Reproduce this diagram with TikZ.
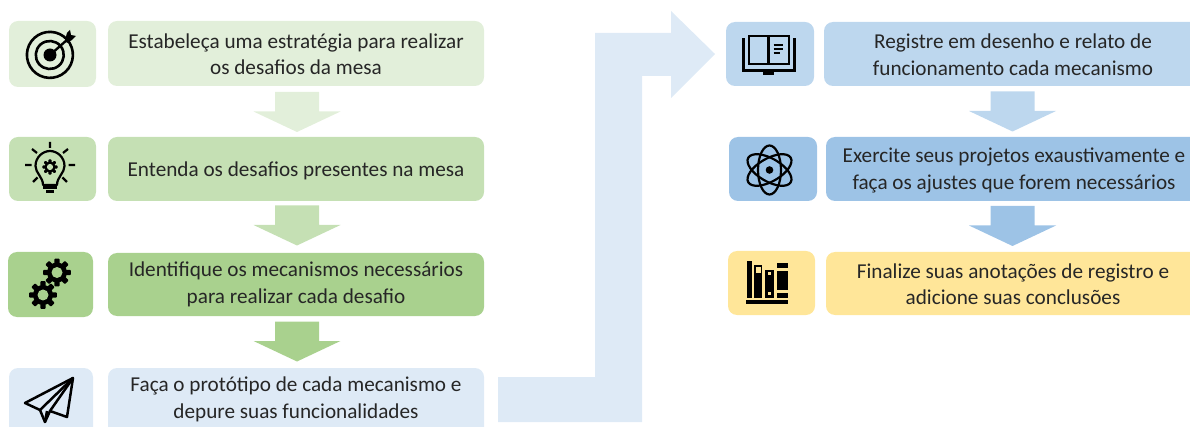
\documentclass[tikz,border=0pt]{standalone}
\usepackage{fontspec}
\setmainfont{Carlito}
\definecolor{gA}{HTML}{E2EFDA}
\definecolor{gB}{HTML}{C5E0B4}
\definecolor{gC}{HTML}{A9D18E}
\definecolor{bA}{HTML}{DEEAF6}
\definecolor{bB}{HTML}{BDD7EE}
\definecolor{bC}{HTML}{9DC3E6}
\definecolor{yA}{HTML}{FFE699}
\definecolor{ink}{HTML}{262626}
\tikzset{
 x=1pt,y=-1pt,
 box/.style={rounded corners=9pt,draw=none},
 lbl/.style={font=\fontsize{21.2}{26.5}\selectfont,text=ink,align=center,inner sep=0pt},
}
\newcommand{\rbox}[6]{% name,x1,y1,x2,y2,colour
 \fill[box,#6] (#2,#3) rectangle (#4,#5);
 \coordinate (#1) at ({(#2+#4)/2},{(#3+#5)/2});}
\newcommand{\darrow}[3]{% cx, top, colour
 \fill[#3] (#1-22,#2) -- (#1+22,#2) -- (#1+22,#2+19.5) -- (#1+43.5,#2+19.5) -- (#1,#2+40) -- (#1-43.5,#2+19.5) -- (#1-22,#2+19.5) -- cycle;}
\newcommand{\gearicon}[4]{% cx cy r holecolour
 \begin{scope}[shift={(#1,#2)}]
 \foreach \a in {0,45,...,315}{\fill[rotate=\a,rounded corners=0.8pt] (-0.27*#3,-1.38*#3) rectangle (0.27*#3,0);}
 \fill (0,0) circle (#3);
 \fill[#4] (0,0) circle (#3*0.55);
 \end{scope}}
\begin{document}
\begin{tikzpicture}
\useasboundingbox (0,0) rectangle (1190,427);
% left column
\rbox{ia}{9}{21}{96}{87}{gA}
\rbox{ta}{108}{21}{484}{86}{gA}
\rbox{ib}{9}{137}{96}{201}{gB}
\rbox{tb}{108}{137}{484}{201}{gB}
\rbox{ic}{8}{252}{93}{317}{gC}
\rbox{tc}{108}{253}{484}{316}{gC}
\begin{scope}
\clip (0,0) rectangle (1190,427);
\rbox{id}{9}{368}{93}{440}{bA}
\rbox{td}{108}{368}{484}{440}{bA}
\end{scope}
\coordinate (td) at (296,399.5);
\coordinate (ta) at (296,54);
\coordinate (tb) at (296,170.5);
\coordinate (tc) at (296,284.5);
\node[lbl] (la) at (ta) {Estabeleça uma estratégia para realizar\\os desafios da mesa};
\node[lbl] (lb) at (tb) {Entenda os desafios presentes na mesa};
\node[lbl] (lc) at (tc) {Identifique os mecanismos necessários\\para realizar cada desafio};
\node[lbl] (ld) at (td) {Faça o protótipo de cada mecanismo e\\depure suas funcionalidades};
% down arrows left
\darrow{297}{92}{gA}
\darrow{297}{205.5}{gB}
\darrow{297}{321.5}{gC}
% big bent arrow
\fill[bA] (498,377) -- (595,377) -- (595,33) -- (671,33) -- (671,11) -- (715,54) -- (671,98) -- (671,76) -- (642,76) -- (642,422) -- (498,422) -- cycle;
% right column
\rbox{ie}{726}{22}{814}{86}{bB}
\rbox{te}{824}{22}{1200}{86}{bB}
\rbox{if}{729}{137}{817}{201}{bC}
\rbox{tf}{826}{137}{1200}{201}{bC}
\rbox{ig}{728}{251}{815}{315}{yA}
\rbox{tg}{826}{252}{1200}{315}{yA}
\node[lbl] (le) at (1013,54.5) {Registre em desenho e relato de\\funcionamento cada mecanismo};
\node[lbl] (lf) at (1014,170.5) {Exercite seus projetos exaustivamente e\\faça os ajustes que forem necessários};
\node[lbl] (lg) at (1013,284) {Finalize suas anotações de registro e\\adicione suas conclusões};
\darrow{1012.5}{91.5}{bB}
\darrow{1012.5}{206}{bC}
% target icon
\begin{scope}[shift={(50,55)}]
\draw[line width=2.6pt] (17,-15.5) arc (-42:-402:23) ;
\draw[line width=2.6pt] (10.5,-9) arc (-40:-400:14);
\fill (0,0) circle (6.5);
\draw[line width=2.4pt] (0,0) -- (18,-16);
\fill (15,-15) -- (17,-22) -- (20,-25) -- (21,-20) -- (26,-19) -- (22,-15) -- (17,-12) -- cycle;
\end{scope}
% bulb icon
\begin{scope}[shift={(50,166)}]
\draw[line width=2.2pt,line join=round] (-7,19) .. controls (-7,11) and (-14.5,7) .. (-14.5,0) .. controls (-14.5,-9) and (-7,-15) .. (0,-15) .. controls (7,-15) and (14.5,-9) .. (14.5,0) .. controls (14.5,7) and (7,11) .. (7,19) -- cycle;
\gearicon{0}{1}{5.6}{gB}
\draw[line width=2.2pt] (-7,21.5) -- (7,21.5);
\fill (-4,24.5) rectangle (4,27);
\draw[line width=2.2pt] (0,-24) -- (0,-18) (-18,-17) -- (-13,-13) (18,-17) -- (13,-13) (-25,-1) -- (-18.5,-1) (25,-1) -- (18.5,-1) (-17,16) -- (-12.5,11.5) (17,16) -- (12.5,11.5);
\end{scope}
% gears
\gearicon{57}{272.5}{10}{gC}
\gearicon{43}{295}{10}{gC}
% paper plane
\begin{scope}[line width=2.5pt,line join=round]
\draw (73,378) -- (25,403) -- (40,410) -- (45,422) -- (50,411) -- (67,417) -- cycle;
\draw (73,378) -- (40,410);
\draw (73,378) -- (50,411);
\draw (45,422) -- (47,411);
\end{scope}
% book icon
\begin{scope}[line join=miter]
\draw[line width=2.8pt] (749,36) rectangle (789,64);
\draw[line width=2.4pt] (768.5,36) -- (768.5,64);
\fill (742,38) rectangle (745,72);
\fill (793,38) rectangle (796,72);
\fill (742,69) rectangle (796,72.5);
\fill (763,72) rectangle (774,75);
\draw[line width=1.4pt] (773.5,45) -- (782.5,45) (773.5,49) -- (782.5,49) (773.5,53) -- (779.5,53);
\end{scope}
% atom icon
\begin{scope}[shift={(769.5,170)}]
\draw[line width=2.2pt] (0,0) ellipse (11.5 and 24.5);
\draw[line width=2.2pt,rotate=60] (0,0) ellipse (11.5 and 24.5);
\draw[line width=2.2pt,rotate=-60] (0,0) ellipse (11.5 and 24.5);
\fill (0,0) circle (3.8);
\end{scope}
% books icon
\fill (747,261) rectangle (752,298);
\fill (754,265) rectangle (762,298);
\fill[yA] (756,267) rectangle (760.5,273);
\fill (765,270) rectangle (774,298);
\fill[yA] (768,272.5) rectangle (771,275.5);
\fill[yA] (768,292.5) rectangle (771,295.5);
\fill (777,263) rectangle (788,268);
\fill (777,271) rectangle (788,290);
\fill (777,293) rectangle (788,298);
\fill (746,300) rectangle (788,304);
\end{tikzpicture}
\end{document}
